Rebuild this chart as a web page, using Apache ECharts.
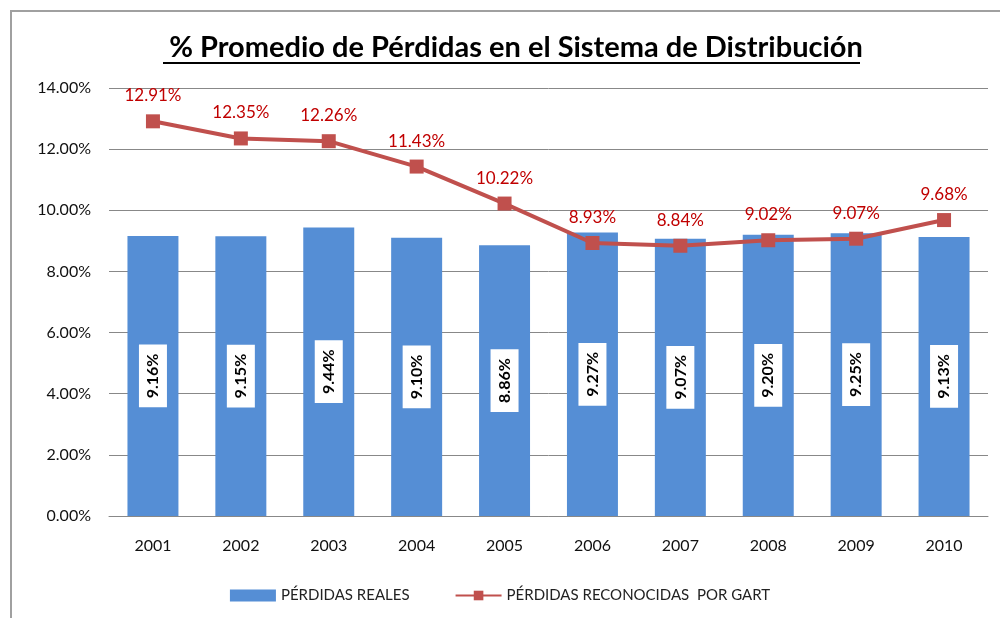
<!DOCTYPE html>
<html>
<head>
<meta charset="utf-8">
<script src="https://cdn.jsdelivr.net/npm/echarts@6/dist/echarts.min.js"></script>
<style>
  html, body { margin: 0; padding: 0; background: #fff; }
  #chart { width: 1000px; height: 618px; }
</style>
</head>
<body>
<div id="chart"></div>
<script>
const years = ['2001', '2002', '2003', '2004', '2005', '2006', '2007', '2008', '2009', '2010'];
const perdidasReales = [9.16, 9.15, 9.44, 9.10, 8.86, 9.27, 9.07, 9.20, 9.25, 9.13];
const perdidasGart = [12.91, 12.35, 12.26, 11.43, 10.22, 8.93, 8.84, 9.02, 9.07, 9.68];
const yTicks = [0, 2, 4, 6, 8, 10, 12, 14];

const font = 'Lato, "Open Sans", sans-serif';
const chart = echarts.init(document.getElementById('chart'));

const option = {
  animation: false,
  textStyle: { fontFamily: font },
  title: {
    text: '% Promedio de Pérdidas en el Sistema de Distribución',
    left: 511,
    textAlign: 'center',
    top: 28,
    textStyle: { fontSize: 29, fontWeight: 'bold', color: '#000', fontFamily: font }
  },
  graphic: [
    {
      type: 'polyline',
      shape: { points: [[11, 640], [11, 11], [1010, 11]] },
      style: { stroke: '#a0a0a0', lineWidth: 2, fill: null }
    },
    {
      type: 'line',
      shape: { x1: 163, y1: 63, x2: 860, y2: 63 },
      style: { stroke: '#000', lineWidth: 2 }
    }
  ],
  legend: {
    bottom: 10,
    left: 'center',
    itemGap: 45,
    itemWidth: 46,
    itemHeight: 12,
    textStyle: { fontSize: 15, color: '#222', fontFamily: font },
    data: [
      { name: 'PÉRDIDAS REALES', icon: 'rect' },
      { name: 'PÉRDIDAS RECONOCIDAS  POR GART' }
    ]
  },
  grid: { left: 109, right: 12, top: 88, bottom: 102 },
  xAxis: {
    type: 'category',
    data: years,
    axisTick: { show: false },
    axisLine: { lineStyle: { color: '#888', width: 1 } },
    axisLabel: { fontSize: 16, color: '#111', margin: 22 }
  },
  yAxis: {
    type: 'value',
    min: yTicks[0],
    max: yTicks[yTicks.length - 1],
    interval: 2,
    axisLine: { show: false },
    axisTick: { show: false },
    splitLine: { lineStyle: { color: '#888', width: 1 } },
    axisLabel: {
      fontSize: 16,
      color: '#111',
      margin: 18,
      formatter: (v) => v.toFixed(2) + '%'
    }
  },
  series: [
    {
      name: 'PÉRDIDAS REALES',
      type: 'bar',
      data: perdidasReales,
      barWidth: '58%',
      itemStyle: { color: '#558ed5' },
      label: {
        show: true,
        position: 'inside',
        rotate: 90,
        formatter: (p) => p.value.toFixed(2) + '%',
        color: '#000',
        fontWeight: 'bold',
        fontSize: 16,
        backgroundColor: '#fff',
        padding: [6, 9]
      }
    },
    {
      name: 'PÉRDIDAS RECONOCIDAS  POR GART',
      type: 'line',
      data: perdidasGart,
      symbol: 'rect',
      symbolSize: 14,
      lineStyle: { color: '#c0504d', width: 4 },
      itemStyle: { color: '#c0504d' },
      label: {
        show: true,
        position: 'top',
        distance: 10,
        color: '#c00000',
        fontSize: 17,
        formatter: (p) => p.value.toFixed(2) + '%'
      }
    }
  ]
};

chart.setOption(option);
</script>
</body>
</html>
